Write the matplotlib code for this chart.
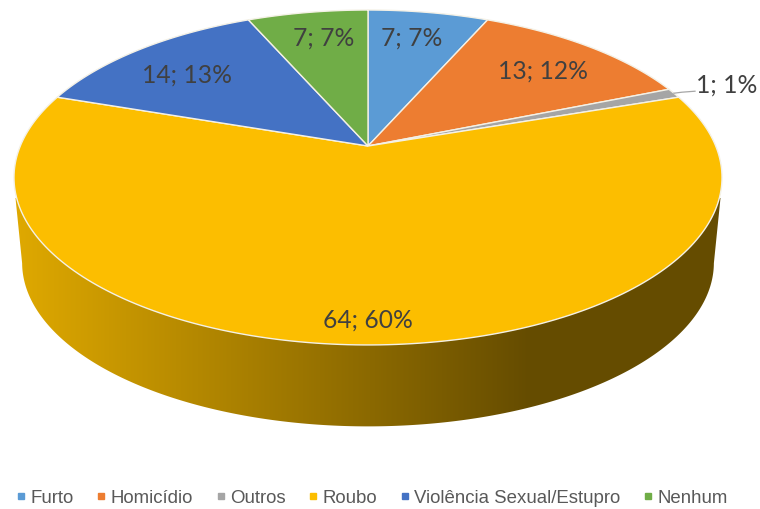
import numpy as np
import matplotlib.pyplot as plt
from matplotlib.lines import Line2D
from matplotlib.patches import Polygon

# Data
categories = ['Furto', 'Homicídio', 'Outros', 'Roubo', 'Violência Sexual/Estupro', 'Nenhum']
values = [7, 13, 1, 64, 14, 7]
percents = [7, 12, 1, 60, 13, 7]
colors = ['#5B9BD5', '#ED7D31', '#A5A5A5', '#FCBE00', '#4472C4', '#70AD47']
label_pos = [(412, 38), (543, 71), (727, 85), (368, 320), (187, 75), (324, 38)]

# perspective of the pie disc, in pixels
CX = 368
CY = 146
PERSP = 0.188
A = -134.1
K = 347.7
DROP = 86
SHRINK = 0.977


def project(t, r=1.0):
    # t = clockwise angle from the top, disc point -> image point
    x = r * np.sin(t)
    y = r * np.cos(t)
    w = 1 + PERSP * y
    return CX + K * x / w, (A * y + CY) / w


def side_shape():
    # outline of the extruded rim, top disc is painted over it later
    t = np.linspace(0, 2 * np.pi, 721)
    x, y = project(t)
    y0 = 198
    wide = (y - CY) * SHRINK + CY + DROP
    bx = CX + (x - CX) * SHRINK
    keep = wide >= wide[np.argmax(bx)] - 1
    order = np.argsort(np.arctan2(bx[keep] - CX, wide[keep] - 261))
    pts = np.column_stack([bx[keep][order], wide[keep][order]])
    start = np.array([[15.5, y0]])
    end = np.array([[720.5, y0]])
    return np.vstack([start, pts, end])


fig = plt.figure(figsize=(7.6, 5.09), dpi=100)
ax = fig.add_axes([0, 0, 1, 1])
ax.set_xlim(0, 760)
ax.set_ylim(509, 0)
ax.axis('off')

# rim gradient, light on the left and dark on the right
left = np.array([222, 168, 0]) / 255
right = np.array([101, 76, 0]) / 255
f = np.clip((np.arange(760) - 20) / 510, 0, 1)[None, :, None]
grad = left + (right - left) * f
im = ax.imshow(grad, extent=(0, 760, 509, 0), aspect='auto', zorder=1)
shape = Polygon(side_shape(), closed=True, transform=ax.transData, fc='none', ec='none')
ax.add_patch(shape)
im.set_clip_path(shape)

# top disc
edges = np.cumsum([0] + values) / sum(values) * 2 * np.pi
for i in range(len(values)):
    t = np.linspace(edges[i], edges[i + 1], 200)
    x, y = project(t)
    ax.fill(np.r_[CX, x], np.r_[CY, y], color=colors[i], ec='#F4F1E6', lw=1.0, zorder=2)

# labels
for i in range(len(values)):
    ax.text(label_pos[i][0] if i != 2 else 696, label_pos[i][1],
            f'{values[i]}; {percents[i]}%', family='Lato', fontsize=17.7, color='#404040',
            ha='center' if i != 2 else 'left', va='center', zorder=4)

# leader for the small slice
lx, ly = project((edges[2] + edges[3]) / 2)
ax.plot([lx, lx + 8, 695], [ly, ly - 1, ly - 2], color='#A6A6A6', lw=0.9, zorder=3)

# legend
handles = [Line2D([], [], ls='', marker='s', ms=4.3, color=c) for c in colors]
ax.legend(handles, categories, ncol=6, loc='center', bbox_to_anchor=(372.5 / 760, 1 - 498 / 509),
          frameon=False, prop={'family': 'Liberation Sans', 'size': 13.4}, labelcolor='#595959',
          handlelength=0.4, handletextpad=0.3, columnspacing=1.28, borderpad=0, borderaxespad=0)

plt.savefig('out.png', dpi=100)
